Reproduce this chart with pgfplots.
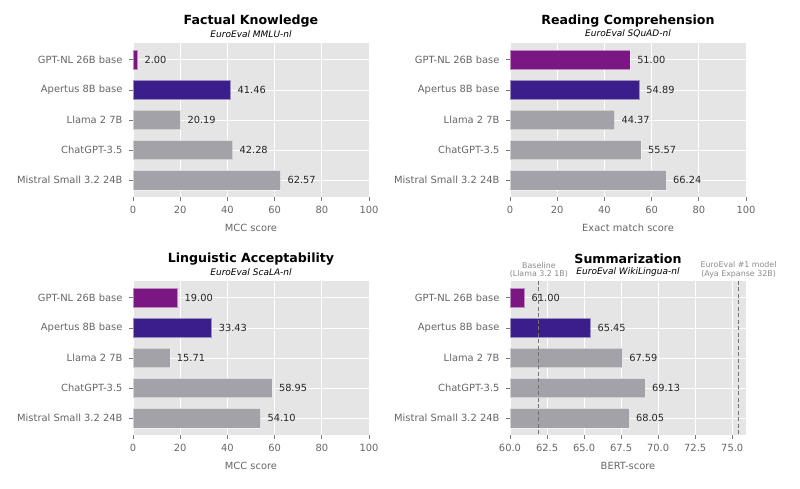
\documentclass[border=0pt]{standalone}
\usepackage{fontspec}
\setmainfont{DejaVu Sans}
\usepackage{pgfplots}
\pgfplotsset{compat=1.18}
\definecolor{bgc}{HTML}{E5E5E5}
\definecolor{gptnl}{HTML}{7B1782}
\definecolor{apertus}{HTML}{3B1E8A}
\definecolor{others}{HTML}{A3A2A8}
\definecolor{labc}{HTML}{666666}
\definecolor{tickc}{HTML}{777777}
\newcommand\tickfont{\fontsize{9.9}{11}\selectfont}
\newcommand\valfont{\fontsize{9.8}{11}\selectfont}
\newcommand\titfont{\fontsize{12.6}{14}\selectfont\bfseries}
\newcommand\subfont{\fontsize{9}{10}\selectfont\itshape}
\newcommand\annfont{\fontsize{7.9}{8.6}\selectfont}
\pgfplotsset{
  panel/.style={
    scale only axis, width=236pt, height=154pt,
    xbar, bar shift=0pt, bar width=0.65,
    y dir=reverse, ymin=-0.56, ymax=4.56,
    ytick={0,1,2,3,4},
    yticklabels={GPT-NL 26B base, Apertus 8B base, Llama 2 7B, ChatGPT-3.5, Mistral Small 3.2 24B},
    axis background/.style={fill=bgc},
    grid=major, major grid style={white, line width=0.8pt},
    axis line style={draw=none},
    tick align=outside, major tick length=4pt,
    tick style={color=tickc, line width=0.8pt},
    xtick pos=left, ytick pos=left,
    ticklabel style={font=\tickfont, text=labc},
    yticklabel style={xshift=-3pt},
    xticklabel style={yshift=-1.5pt},
    /pgf/number format/assume math mode=true,
  },
  vals/.style={
    nodes near coords={\pgfmathprintnumber[fixed,fixed zerofill,precision=2,assume math mode=true]{\pgfplotspointmeta}},
    point meta=x,
    every node near coord/.append style={anchor=west, inner sep=0pt, xshift=6.5pt, font=\valfont, text=black!85},
  },
  b1/.style={fill=gptnl, draw=white, draw opacity=0.5, line width=0.8pt, vals},
  b2/.style={fill=apertus, draw=white, draw opacity=0.5, line width=0.8pt, vals},
  b3/.style={fill=others, draw=white, draw opacity=0.5, line width=0.8pt, vals},
  dline/.style={sharp plot, color=black!55, line width=1.2pt, dash pattern=on 4pt off 2.5pt},
}
\begin{document}
\begin{tikzpicture}
\path[use as bounding box] (0,0) rectangle (800pt,489pt);
% Factual knowledge
\begin{axis}[panel, name=tl, at={(133pt,292pt)}, anchor=south west,
  xmin=0, xmax=100, xtick={0,20,...,100}]
\addplot[b1] coordinates {(2.00,0)};
\addplot[b2] coordinates {(41.46,1)};
\addplot[b3] coordinates {(20.19,2) (42.28,3) (62.57,4)};
\end{axis}
\node[font=\titfont] at ([yshift=22pt]tl.north) {Factual Knowledge};
\node[font=\subfont] at ([yshift=9pt]tl.north) {EuroEval MMLU-nl};
\node[font=\tickfont, text=labc] at ([yshift=-31pt]tl.south) {MCC score};
% Reading comprehension
\begin{axis}[panel, name=tr, at={(510pt,292pt)}, anchor=south west,
  xmin=0, xmax=100, xtick={0,20,...,100}]
\addplot[b1] coordinates {(51.00,0)};
\addplot[b2] coordinates {(54.89,1)};
\addplot[b3] coordinates {(44.37,2) (55.57,3) (66.24,4)};
\end{axis}
\node[font=\titfont] at ([yshift=22pt]tr.north) {Reading Comprehension};
\node[font=\subfont] at ([yshift=9pt]tr.north) {EuroEval SQuAD-nl};
\node[font=\tickfont, text=labc] at ([yshift=-31pt]tr.south) {Exact match score};
% Linguistic acceptability
\begin{axis}[panel, name=bl, at={(133pt,54pt)}, anchor=south west,
  xmin=0, xmax=100, xtick={0,20,...,100}]
\addplot[b1] coordinates {(19.00,0)};
\addplot[b2] coordinates {(33.43,1)};
\addplot[b3] coordinates {(15.71,2) (58.95,3) (54.10,4)};
\end{axis}
\node[font=\titfont] at ([yshift=22pt]bl.north) {Linguistic Acceptability};
\node[font=\subfont] at ([yshift=9pt]bl.north) {EuroEval ScaLA-nl};
\node[font=\tickfont, text=labc] at ([yshift=-31pt]bl.south) {MCC score};
% Summarization
\begin{axis}[panel, name=br, at={(510pt,54pt)}, anchor=south west,
  xmin=60, xmax=75.93, xtick={60,62.5,...,75},
  xticklabel style={/pgf/number format/.cd, fixed, fixed zerofill, precision=1}]
\addplot[b1] coordinates {(61.00,0)};
\addplot[b2] coordinates {(65.45,1)};
\addplot[b3] coordinates {(67.59,2) (69.13,3) (68.05,4)};
\addplot[dline] coordinates {(61.95,-0.56) (61.95,4.56)};
\addplot[dline] coordinates {(75.43,-0.56) (75.43,4.56)};
\coordinate (base) at (axis cs:61.95,-0.56);
\coordinate (top1) at (axis cs:75.43,-0.56);
\end{axis}
\node[font=\titfont] at ([yshift=22pt]br.north) {Summarization};
\node[font=\subfont] at ([yshift=9pt]br.north) {EuroEval WikiLingua-nl};
\node[font=\tickfont, text=labc] at ([yshift=-31pt]br.south) {BERT-score};
\node[font=\annfont, text=black!45, align=center, anchor=south, inner sep=0pt] at ([yshift=3pt]base) {Baseline\\(Llama 3.2 1B)};
\node[font=\annfont, text=black!45, align=center, anchor=south, inner sep=0pt] at ([yshift=3pt]top1) {EuroEval \#1 model\\(Aya Expanse 32B)};
\end{tikzpicture}
\end{document}
